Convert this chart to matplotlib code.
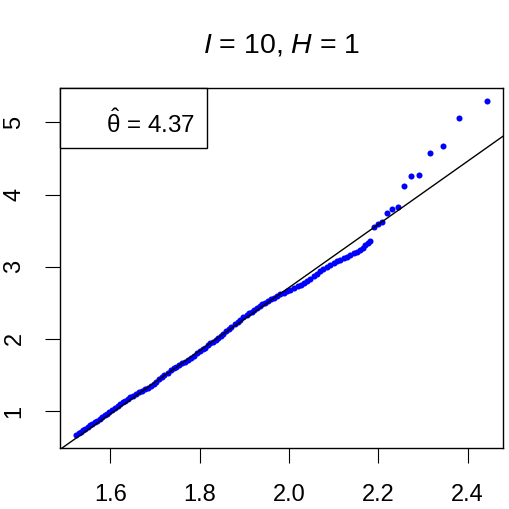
# QQ plot, I = 10, H = 1

import matplotlib.pyplot as plt
import matplotlib.patches as patches
import numpy as np

plt.rcParams['font.family'] = ['Liberation Sans', 'DejaVu Sans']
plt.rcParams['mathtext.fontset'] = 'custom'
plt.rcParams['mathtext.rm'] = 'Liberation Sans'
plt.rcParams['mathtext.it'] = 'Liberation Sans:italic'

theta_hat = 4.37
intercept = -6.038
slope = 4.375

theoretical = [
    1.524, 1.529, 1.534, 1.539, 1.544, 1.550, 1.555, 1.560, 1.565, 1.570,
    1.576, 1.581, 1.587, 1.592, 1.598, 1.604, 1.610, 1.616, 1.622, 1.628,
    1.633, 1.639, 1.645, 1.651, 1.657, 1.665, 1.671, 1.678, 1.684, 1.691,
    1.697, 1.703, 1.709, 1.715, 1.721, 1.728, 1.736, 1.742, 1.748, 1.754,
    1.760, 1.766, 1.773, 1.780, 1.787, 1.795, 1.801, 1.807, 1.812, 1.818,
    1.824, 1.830, 1.836, 1.842, 1.847, 1.853, 1.859, 1.865, 1.871, 1.878,
    1.885, 1.891, 1.898, 1.905, 1.911, 1.916, 1.922, 1.928, 1.934, 1.940,
    1.946, 1.952, 1.959, 1.966, 1.973, 1.980, 1.988, 1.995, 2.003, 2.011,
    2.020, 2.027, 2.034, 2.041, 2.048, 2.055, 2.062, 2.070, 2.077, 2.085,
    2.092, 2.100, 2.107, 2.115, 2.122, 2.130, 2.137, 2.145, 2.152, 2.159,
    2.165, 2.170, 2.176, 2.182,
    2.191, 2.200, 2.209, 2.220, 2.231, 2.244, 2.258, 2.274, 2.292, 2.315,
    2.344, 2.380, 2.443,
]
observed = [
    0.670, 0.691, 0.712, 0.733, 0.754, 0.780, 0.802, 0.823, 0.845, 0.867,
    0.893, 0.914, 0.940, 0.962, 0.988, 1.014, 1.040, 1.067, 1.094, 1.121,
    1.143, 1.170, 1.191, 1.212, 1.232, 1.260, 1.281, 1.305, 1.326, 1.350,
    1.380, 1.410, 1.440, 1.470, 1.499, 1.532, 1.570, 1.592, 1.615, 1.637,
    1.660, 1.681, 1.705, 1.730, 1.763, 1.800, 1.829, 1.857, 1.881, 1.910,
    1.937, 1.964, 1.991, 2.018, 2.040, 2.073, 2.107, 2.140, 2.170, 2.205,
    2.240, 2.267, 2.299, 2.330, 2.355, 2.375, 2.400, 2.427, 2.453, 2.480,
    2.502, 2.524, 2.550, 2.573, 2.597, 2.620, 2.641, 2.659, 2.680, 2.703,
    2.730, 2.753, 2.777, 2.800, 2.835, 2.870, 2.903, 2.940, 2.968, 3.000,
    3.023, 3.050, 3.073, 3.100, 3.119, 3.140, 3.163, 3.190, 3.210, 3.230,
    3.260, 3.300, 3.330, 3.350,
    3.544, 3.591, 3.623, 3.748, 3.803, 3.827, 4.112, 4.257, 4.265, 4.576,
    4.667, 5.055, 5.291,
]
x_ticks = [1.6, 1.8, 2.0, 2.2, 2.4]
x_labels = ["1.6", "1.8", "2.0", "2.2", "2.4"]
y_ticks = [1, 2, 3, 4, 5]

x = np.array(theoretical)
y = np.array(observed)

fig = plt.figure(figsize=(5.09, 5.09), dpi=100)
ax = fig.add_axes([60 / 509, 1 - 448.3 / 509, 443.3 / 509, 360.3 / 509])

# R style axis range: data range plus 4% each side
xr = x.max() - x.min()
yr = y.max() - y.min()
ax.set_xlim(x.min() - 0.04 * xr, x.max() + 0.04 * xr)
ax.set_ylim(y.min() - 0.04 * yr, y.max() + 0.04 * yr)

ax.scatter(x, y, s=19, color='#0000ff', linewidths=0, zorder=2)
xx = np.array(ax.get_xlim())
ax.plot(xx, intercept + slope * xx, color='black', linewidth=1.0, zorder=3)

ax.set_xticks(x_ticks)
ax.set_xticklabels(x_labels)
ax.set_yticks(y_ticks)
ax.tick_params(axis='both', direction='out', length=10.8, width=0.8,
               labelsize=17)
ax.tick_params(axis='x', pad=15)
ax.tick_params(axis='y', pad=14)
plt.setp(ax.get_yticklabels(), rotation=90, va='center')
for s in ax.spines.values():
    s.set_linewidth(1.0)

# legend box in the top-left corner
ax.add_patch(patches.Rectangle((0, 1 - 0.1674), 0.331, 0.1674,
                               transform=ax.transAxes, facecolor='white',
                               edgecolor='black', linewidth=1.0, zorder=4,
                               clip_on=False))
ax.text(0.104, 0.874, r'$\hat{\mathrm{\theta}}$ = ' + f'{theta_hat:.2f}',
        transform=ax.transAxes, fontsize=17.5, ha='left', va='baseline',
        zorder=5)

fig.text(281.5 / 509, 1 - 52.7 / 509, r'$I$ = 10, $H$ = 1',
         fontsize=20.5, ha='center', va='baseline')

fig.savefig('out.png', dpi=100)
